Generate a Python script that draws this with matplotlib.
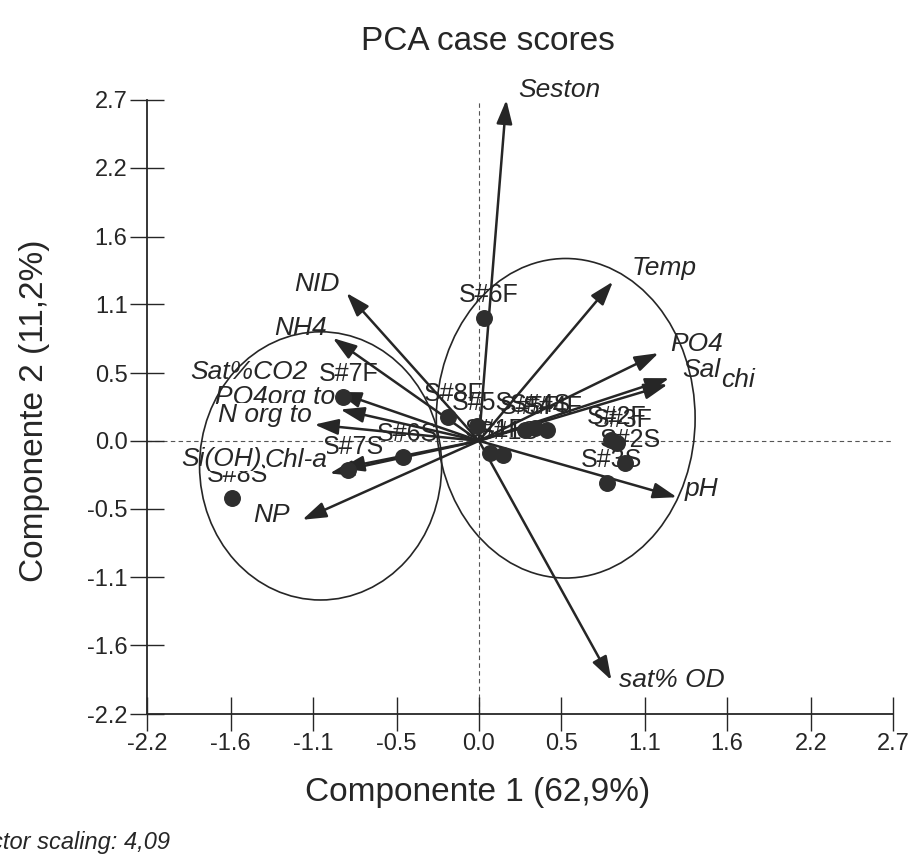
import matplotlib
matplotlib.use("Agg")
import matplotlib.pyplot as plt
from matplotlib.patches import Ellipse

# variable vectors (tips, already scaled)
var_names = ["Seston", "Temp", "PO4", "chi", "Sal", "pH", "sat% OD",
             "NID", "NH4", "Sat%CO2", "PO4org to", "N org to", "Chl-a", "Si(OH)", "NP"]
var_x = [0.18, 0.88, 1.18, 1.24, 1.25, 1.30, 0.87,
         -0.87, -0.96, -0.93, -0.91, -1.08, -0.91, -0.98, -1.16]
var_y = [2.72, 1.27, 0.70, 0.45, 0.50, -0.45, -1.91,
         1.18, 0.82, 0.39, 0.25, 0.13, -0.22, -0.26, -0.63]

# case scores
case_names = ["S#1F", "S#1S", "S#2F", "S#2S", "S#3F", "S#3S", "S#4F", "S#4S",
              "S#5F", "S#5S", "S#6F", "S#6S", "S#7F", "S#7S", "S#8F", "S#8S"]
case_x = [0.07, 0.16, 0.87, 0.96, 0.91, 0.84, 0.45, 0.37,
          0.30, -0.01, 0.03, -0.50, -0.89, -0.86, -0.20, -1.62]
case_y = [-0.10, -0.11, 0.01, -0.18, -0.02, -0.34, 0.09, 0.10,
          0.09, 0.12, 0.98, -0.13, 0.35, -0.23, 0.19, -0.46]

# cluster circles
circle_x = [-1.04, 0.57]
circle_y = [-0.20, 0.18]
circle_w = [1.59, 1.70]
circle_h = [2.14, 2.55]

tick_vals = [-2.18, -1.63, -1.09, -0.54, 0.0, 0.54, 1.09, 1.63, 2.18, 2.72]
tick_labels = ["-2.2", "-1.6", "-1.1", "-0.5", "0.0", "0.5", "1.1", "1.6", "2.2", "2.7"]

# label placement (pixels from arrow tip)
var_offsets = [(12, 10), (19, 14), (12, 9), (53, 4), (13, 8), (8, 8), (8, 0),
               (-7, 9), (-6, 10), (-30, 20), (-5, 13), (-3, 10), (-13, 8), (-68, 14), (-13, 5)]

narrow = ["Liberation Sans Narrow", "Liberation Sans", "DejaVu Sans"]
plt.rcParams["font.family"] = ["Liberation Sans", "DejaVu Sans"]
ink = "#262626"

fig = plt.figure(figsize=(9.15, 8.61), dpi=100)
ax = fig.add_axes([0.1607, 0.1707, 0.8153, 0.7132])
ax.set_xlim(tick_vals[0], tick_vals[-1])
ax.set_ylim(tick_vals[0], tick_vals[-1])

ax.axhline(0, color="#555555", lw=0.8, ls=(0, (4, 3)), zorder=1)
ax.axvline(0, color="#555555", lw=0.8, ls=(0, (4, 3)), zorder=1)

for name, x, y in zip(case_names, case_x, case_y):
    ax.annotate(name, (x, y), xytext=(5, 23), textcoords="offset pixels",
                ha="center", va="center", fontsize=18, family=narrow,
                color=ink, zorder=2)

for name, x, y, off in zip(var_names, var_x, var_y, var_offsets):
    ax.annotate(name, (x, y), xytext=off, textcoords="offset pixels",
                ha="left" if off[0] > 0 else "right", va="center",
                fontsize=19, family=narrow, style="italic", color=ink,
                bbox=dict(facecolor="white", edgecolor="none", pad=0),
                zorder=3)

for x, y in zip(var_x, var_y):
    ax.annotate("", xy=(x, y), xytext=(0, 0),
                arrowprops=dict(arrowstyle="-|>,head_length=0.9,head_width=0.3",
                                mutation_scale=16, color=ink, lw=1.8,
                                shrinkA=0, shrinkB=0),
                zorder=4)

for cx, cy, w, h in zip(circle_x, circle_y, circle_w, circle_h):
    ax.add_patch(Ellipse((cx, cy), w, h, fill=False, edgecolor=ink, lw=1.2, zorder=5))

ax.scatter(case_x, case_y, s=125, color="#2e2e2e", zorder=6)

for s in ["top", "right"]:
    ax.spines[s].set_visible(False)
for s in ["left", "bottom"]:
    ax.spines[s].set_linewidth(1.3)
    ax.spines[s].set_color(ink)

ax.set_xticks(tick_vals)
ax.set_xticklabels(tick_labels)
ax.set_yticks(tick_vals)
ax.set_yticklabels(tick_labels)
ax.tick_params(direction="inout", length=24, width=1, labelsize=17,
               colors=ink, pad=2)

fig.text(488 / 915, 1 - 42 / 861, "PCA case scores", ha="center", va="center",
         fontsize=24, color=ink)
fig.text(478 / 915, 1 - 793 / 861, "Componente 1 (62,9%)", ha="center",
         va="center", fontsize=24, color=ink)
fig.text(35 / 915, 1 - 411 / 861, "Componente 2 (11,2%)", ha="center",
         va="center", rotation=90, fontsize=24, color=ink)
fig.text(170 / 915, 1 - 843 / 861, "Vector scaling: 4,09", ha="right",
         va="center", fontsize=17, style="italic", color=ink)

fig.savefig("out.png", dpi=100)
plt.close(fig)
